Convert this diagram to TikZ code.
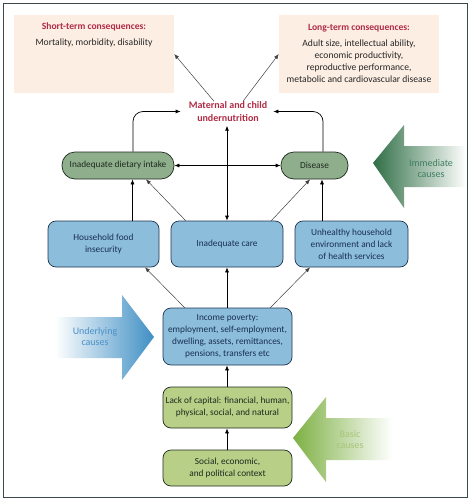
\documentclass[tikz,border=0pt]{standalone}
\usepackage{fontspec}
\setmainfont{Carlito}
\usetikzlibrary{arrows.meta,calc}
\definecolor{peach}{HTML}{FCEEE3}
\definecolor{bluefill}{HTML}{8CBEDC}
\definecolor{bluedraw}{HTML}{1F3550}
\definecolor{bluetext}{HTML}{1A2E50}
\definecolor{dgfill}{HTML}{8FAF8C}
\definecolor{lgfill}{HTML}{B7CF87}
\definecolor{gdraw}{HTML}{1E2A1E}
\definecolor{titlered}{HTML}{B02C45}
\definecolor{immgreen}{HTML}{2F6E45}
\definecolor{immtext}{HTML}{3F7F5F}
\definecolor{undblue}{HTML}{3F8FC4}
\definecolor{undtext}{HTML}{4A90C8}
\definecolor{basgreen}{HTML}{7DB043}
\definecolor{bastext}{HTML}{A8C47A}
\definecolor{framecol}{HTML}{3A4A4A}
\tikzset{
  base/.style={draw, line width=0.7pt, align=center, inner sep=1pt, font=\fontsize{9.3}{12}\selectfont},
  pill/.style={base, fill=dgfill, draw=gdraw, rounded corners=13pt, minimum height=27pt, text=gdraw},
  bluebox/.style={base, fill=bluefill, draw=bluedraw, rounded corners=8pt, text=bluetext},
  lgbox/.style={base, fill=lgfill, draw=gdraw, rounded corners=8pt, text=gdraw},
  conbox/.style={fill=peach, minimum width=160pt, minimum height=78pt, inner sep=0pt},
  contxt/.style={align=center, inner sep=0pt, font=\fontsize{9.6}{12}\selectfont, text=black!85},
  arr/.style={line width=0.7pt, -{Latex[length=5pt,width=4pt]}},
  darr/.style={line width=0.7pt, {Latex[length=5pt,width=4pt]}-{Latex[length=5pt,width=4pt]}},
  thinarr/.style={line width=0.5pt, draw=black!75, -{Latex[length=5pt,width=4pt]}},
  causetxt/.style={align=center, inner sep=0pt, font=\fontsize{10}{11}\selectfont}
}
\begin{document}
\begin{tikzpicture}[x=1pt,y=-1pt]
\useasboundingbox (0,0) rectangle (472,501);
\draw[framecol, line width=0.6pt] (3,3) rectangle (467,497);

% gradient arrows
\shade[left color=immgreen, middle color=immgreen!60!white, right color=white]
  (373,163) -- (404,125) -- (404,146) -- (466,146) -- (466,187) -- (404,187) -- (404,208) -- cycle;
\node[causetxt, text=immtext] (immt) at (431,168.5) {Immediate\\causes};

\shade[left color=white, middle color=undblue!55!white, right color=undblue]
  (154,337) -- (122,295) -- (122,317) -- (55,317) -- (55,358) -- (122,358) -- (122,380) -- cycle;
\node[causetxt, text=undtext] (undt) at (95,337) {Underlying\\causes};

\shade[left color=basgreen, middle color=basgreen!55!white, right color=white]
  (293,438) -- (326,397) -- (326,418) -- (392,418) -- (392,460) -- (326,460) -- (326,482) -- cycle;
\node[causetxt, text=bastext] (bast) at (350,439.5) {Basic\\causes};

% consequence boxes
\node[conbox] (st) at (94,54) {};
\node[contxt] (stt) at (94,35) {\textcolor{titlered}{\textbf{Short-term consequences:}}\\[4pt]Mortality, morbidity, disability};
\node[conbox] (lt) at (359,54) {};
\node[contxt] (ltt) at (359,53) {\textcolor{titlered}{\textbf{Long-term consequences:}}\\[4pt]Adult size, intellectual ability,\\economic productivity,\\reproductive performance,\\metabolic and cardiovascular disease};

% outcome
\node[align=center, inner sep=2pt, text=titlered, font=\bfseries\fontsize{10}{13}\selectfont] (mat) at (228,111.5) {Maternal and child\\undernutrition};

% immediate
\node[pill, minimum width=112pt] (diet) at (118,165.5) {Inadequate dietary intake};
\node[pill, minimum width=67pt] (dis) at (314.5,165.5) {Disease};

% underlying
\node[bluebox, minimum width=111pt, minimum height=46pt] (food) at (103.5,244) {Household food\\insecurity};
\node[bluebox, minimum width=112pt, minimum height=46pt] (care) at (227,244) {Inadequate care};
\node[bluebox, minimum width=113pt, minimum height=46pt] (env) at (351.5,244) {Unhealthy household\\environment and lack\\of health services};
\node[bluebox, minimum width=129pt, minimum height=57pt] (inc) at (227.5,336.5) {Income poverty:\\employment, self-employment,\\dwelling, assets, remittances,\\pensions, transfers etc};

% basic
\node[lgbox, minimum width=129pt, minimum height=41pt] (cap) at (227.5,407.5) {Lack of capital: financial, human,\\physical, social, and natural};
\node[lgbox, minimum width=129pt, minimum height=36pt] (soc) at (227.5,468) {Social, economic,\\and political context};

% connectors
\draw[thinarr] ($(mat.north)+(-14,2)$) -- (st.east);
\draw[thinarr] ($(mat.north)+(15,2)$) -- (lt.west);
\draw[arr, rounded corners=10pt, shorten >=6pt] ([xshift=15pt]diet.north) |- (mat.west);
\draw[arr, rounded corners=10pt, shorten >=4pt] ([xshift=8.5pt]dis.north) |- (mat.east);
\draw[darr, shorten <=2pt] (mat.south -| care.north) -- (care.north);
\draw[darr] (diet.east) -- (dis.west);

\draw[arr] ([xshift=29pt]food.north) -- ([xshift=14.5pt]diet.south);
\draw[thinarr] ([xshift=15pt]care.north west) -- ([xshift=28pt]diet.south);
\draw[thinarr] ([xshift=-12pt]care.north east) -- ([xshift=-4.5pt]dis.south);
\draw[arr] ([xshift=-29.5pt]env.north) -- ([xshift=7.5pt]dis.south);

\draw[thinarr] ([xshift=22pt]inc.north west) -- ([xshift=41.5pt]food.south);
\draw[arr] (inc.north -| care.south) -- (care.south);
\draw[thinarr] ([xshift=-22pt]inc.north east) -- ([xshift=-41.5pt]env.south);

\draw[arr] (cap.north -| care.south) -- (inc.south -| care.south);
\draw[arr] (soc.north -| care.south) -- (cap.south -| care.south);
\end{tikzpicture}
\end{document}
